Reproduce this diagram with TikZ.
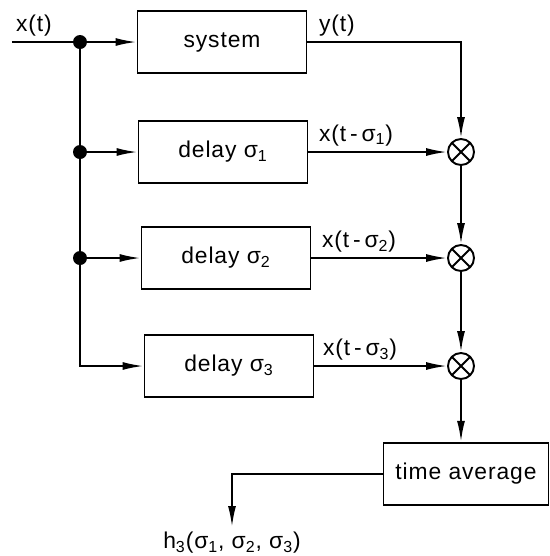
\documentclass[tikz,border=0pt]{standalone}
\usepackage{fontspec}
\setmainfont{Liberation Sans}[LetterSpace=4]
\usetikzlibrary{arrows.meta,positioning}
\tikzset{
  blockbox/.style={draw,line width=1.1pt,inner sep=0pt,minimum width=3.38cm,minimum height=1.25cm},
  mulnode/.style={circle,draw,line width=1.1pt,minimum size=0.52cm,inner sep=0pt,
    path picture={\draw[line width=1.1pt] (path picture bounding box.north west)--(path picture bounding box.south east)
      (path picture bounding box.north east)--(path picture bounding box.south west);}},
  dotnode/.style={circle,fill,minimum size=0.28cm,inner sep=0pt},
  sig/.style={inner sep=1pt,anchor=south west},
  arr/.style={-{Latex[length=0.42cm,width=0.16cm]}},
  wire/.style={line width=1.1pt}
}
\begin{document}
\begin{tikzpicture}[x=0.02cm,y=-0.02cm,every node/.style={font=\fontsize{13}{15}\selectfont}]
\useasboundingbox (0,0) rectangle (550,556);

% blocks
\node[blockbox] (sys) at (222,42) {system};
\node[blockbox] (dl1) at (223,152) {delay σ\textsubscript{1}};
\node[blockbox] (dl2) at (226,258) {delay σ\textsubscript{2}};
\node[blockbox] (dl3) at (229,366) {delay σ\textsubscript{3}};
\node[blockbox,minimum width=3.3cm] (tavg) at (466,474) {time average};

% multipliers
\node[mulnode] (m1) at (461,152) {};
\node[mulnode] (m2) at (461,258) {};
\node[mulnode] (m3) at (461,366) {};

% branch points
\coordinate (xin) at (12,42);
\node[dotnode] (d0) at (80,42) {};
\node[dotnode] (d1) at (80,152) {};
\node[dotnode] (d2) at (80,258) {};
\coordinate (hout) at (232,527);

% connectors
\draw[wire] (xin) -- (d0);
\draw[wire,arr] (d0) -- (sys);
\draw[wire] (d0) -- (d1) -- (d2);
\draw[wire,arr] (d1) -- (dl1);
\draw[wire,arr] (d2) -- (dl2);
\draw[wire,arr] (d2) |- (dl3);
\draw[wire,arr] (sys.east) -| (m1);
\draw[wire,arr] (dl1) -- (m1);
\draw[wire,arr] (dl2) -- (m2);
\draw[wire,arr] (dl3) -- (m3);
\draw[wire,arr] (m1) -- (m2);
\draw[wire,arr] (m2) -- (m3);
\draw[wire,arr] (m3) -- (m3 |- tavg.north);
\draw[wire,arr] (tavg.west) -| (hout);

% signal labels
\node[sig] (lx) at (14,38) {x(t)};
\node[sig] (ly) at (317,38) {y(t)};
\node[sig] (lx1) at (317,148) {x(t\,-\,σ\textsubscript{1})};
\node[sig] (lx2) at (320,254) {x(t\,-\,σ\textsubscript{2})};
\node[sig] (lx3) at (321,362) {x(t\,-\,σ\textsubscript{3})};
\node[below=0.1cm of hout,inner sep=0pt] (lh) {h\textsubscript{3}(σ\textsubscript{1}, σ\textsubscript{2}, σ\textsubscript{3})};
\end{tikzpicture}
\end{document}
